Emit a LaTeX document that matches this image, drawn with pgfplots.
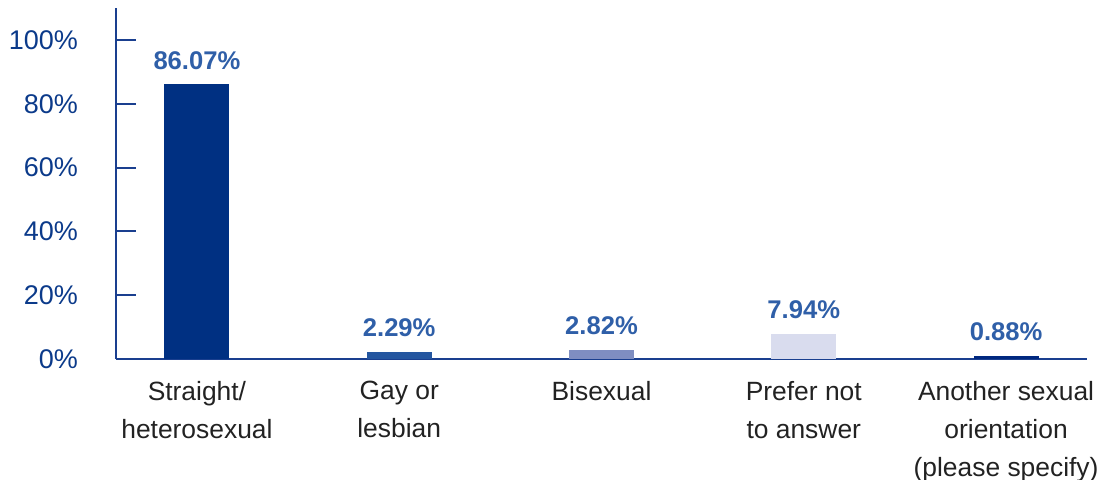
\documentclass[border=0pt]{standalone}
\usepackage{pgfplots}
\pgfplotsset{compat=1.18}
\usepackage{fontspec}
\setmainfont{Liberation Sans}
\definecolor{axisblue}{HTML}{1A3F8F}
\definecolor{tickblue}{HTML}{0B3A8A}
\definecolor{lblblue}{HTML}{2F5FA8}
\definecolor{catgray}{HTML}{222222}
\definecolor{cA}{HTML}{003082}
\definecolor{cB}{HTML}{2456A0}
\definecolor{cC}{HTML}{7F8EC1}
\definecolor{cD}{HTML}{D9DCEE}
\definecolor{cE}{HTML}{00287F}
\begin{document}
\begin{tikzpicture}
\useasboundingbox (-58pt,-60.5pt) rectangle (498.5pt,179.5pt);
\begin{axis}[
  scale only axis,
  width=485.5pt, height=175.5pt,
  xmin=-0.4, xmax=4.4,
  ymin=0, ymax=110,
  axis x line=bottom, axis y line=left,
  axis line style={axisblue, line width=1pt, -},
  ytick={0,20,40,60,80,100},
  yticklabel={\pgfmathprintnumber{\tick}\%},
  /pgf/number format/assume math mode=true,
  yticklabel style={font=\fontsize{13.5}{16}\selectfont, text=tickblue, xshift=-15.5pt},
  major tick length=10pt,
  tick align=inside,
  tick style={axisblue, line width=1pt},
  xtick={0,1,2,3,4},
  xticklabels={{Straight/\\heterosexual},{Gay or\\lesbian},{Bisexual},{Prefer not\\to answer},{Another sexual\\orientation\\(please specify)}},
  x tick style={draw=none},
  xticklabel style={font=\fontsize{13.2}{19}\selectfont, text=catgray, align=center, anchor=north, yshift=2.5pt},
  ybar, bar width=32.5pt, bar shift=0pt,
  nodes near coords={\pgfmathprintnumber[fixed,precision=2,fixed zerofill]{\pgfplotspointmeta}\%},
  every node near coord/.append style={font=\bfseries\fontsize{12.8}{14}\selectfont, text=lblblue, yshift=4pt},
  clip=false,
]
\addplot[fill=cA, draw=none] coordinates {(0,86.07)};
\addplot[fill=cB, draw=none] coordinates {(1,2.29)};
\addplot[fill=cC, draw=none] coordinates {(2,2.82)};
\addplot[fill=cD, draw=none] coordinates {(3,7.94)};
\addplot[fill=cE, draw=none] coordinates {(4,0.88)};
\end{axis}
\end{tikzpicture}
\end{document}
